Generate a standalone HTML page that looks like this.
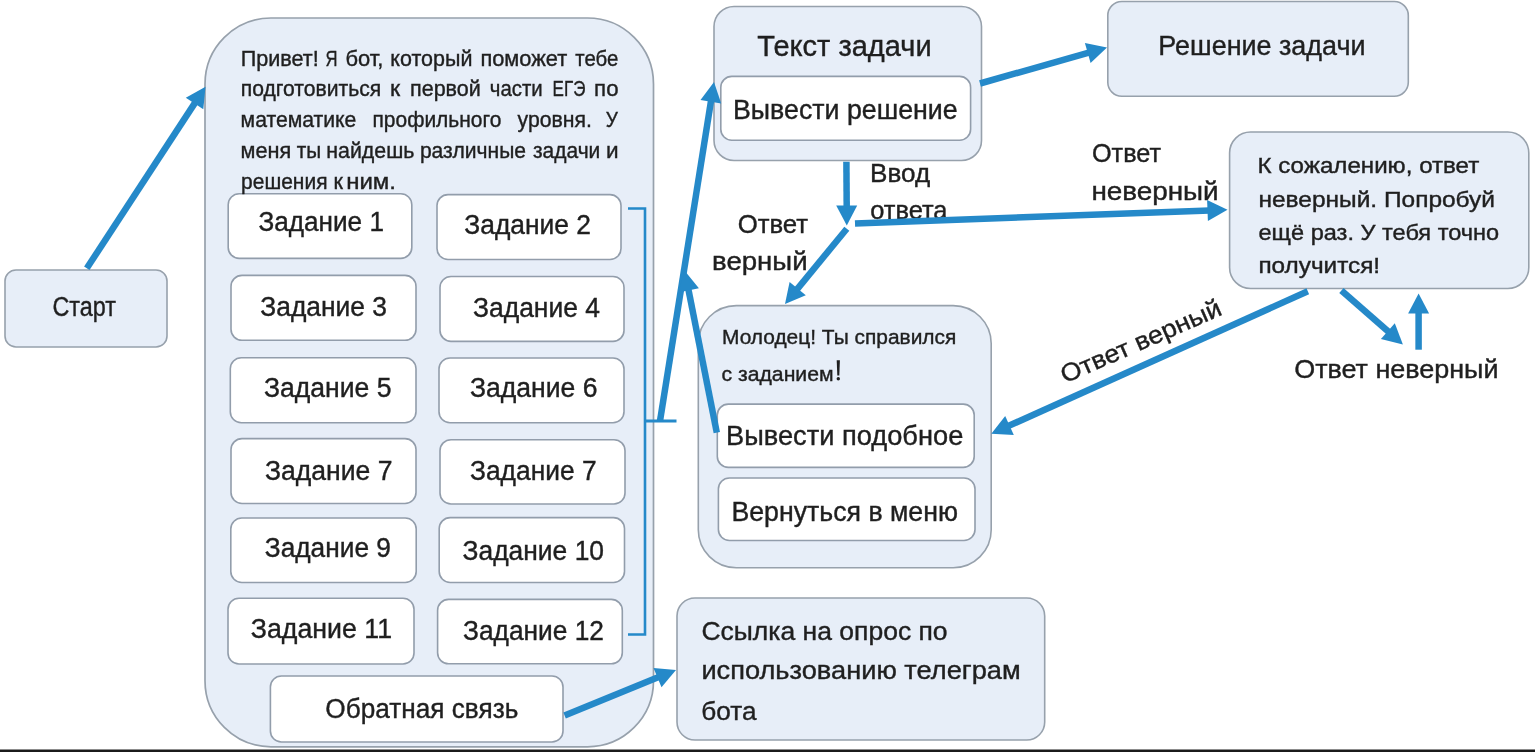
<!DOCTYPE html>
<html><head><meta charset="utf-8"><style>
html,body{margin:0;padding:0;background:#fff;width:1535px;height:752px;overflow:hidden;}
svg{display:block;font-family:"Liberation Sans",sans-serif;will-change:transform;}
</style></head><body>
<svg width="1535" height="752" viewBox="0 0 1535 752">
<rect x="0" y="0" width="1535" height="752" fill="#ffffff"/>
<rect x="5.0" y="270.0" width="162.0" height="77.0" rx="11" ry="11" fill="#e7eef8" stroke="#97a1ac" stroke-width="1.6"/>
<rect x="205.0" y="18.0" width="448.5" height="728.8" rx="66" ry="66" fill="#e7eef8" stroke="#97a1ac" stroke-width="1.7"/>
<rect x="714.0" y="6.5" width="267.5" height="154.0" rx="20" ry="20" fill="#e7eef8" stroke="#97a1ac" stroke-width="1.6"/>
<rect x="1107.8" y="1.5" width="300.5" height="94.7" rx="14" ry="14" fill="#e7eef8" stroke="#97a1ac" stroke-width="1.6"/>
<rect x="1229.6" y="132.0" width="299.2" height="156.5" rx="21" ry="21" fill="#e7eef8" stroke="#97a1ac" stroke-width="1.6"/>
<rect x="698.3" y="305.6" width="292.9" height="262.2" rx="38" ry="38" fill="#e7eef8" stroke="#97a1ac" stroke-width="1.6"/>
<rect x="677.0" y="598.0" width="367.7" height="142.0" rx="18" ry="18" fill="#e7eef8" stroke="#97a1ac" stroke-width="1.6"/>
<rect x="228.2" y="193.8" width="183.6" height="64.6" rx="11" ry="11" fill="#ffffff" stroke="#929dab" stroke-width="1.6"/>
<rect x="437.0" y="194.6" width="184.0" height="64.9" rx="11" ry="11" fill="#ffffff" stroke="#929dab" stroke-width="1.6"/>
<rect x="231.0" y="275.4" width="185.0" height="64.9" rx="11" ry="11" fill="#ffffff" stroke="#929dab" stroke-width="1.6"/>
<rect x="440.0" y="276.5" width="184.0" height="64.9" rx="11" ry="11" fill="#ffffff" stroke="#929dab" stroke-width="1.6"/>
<rect x="230.3" y="357.8" width="185.7" height="64.9" rx="11" ry="11" fill="#ffffff" stroke="#929dab" stroke-width="1.6"/>
<rect x="439.0" y="358.0" width="185.0" height="64.7" rx="11" ry="11" fill="#ffffff" stroke="#929dab" stroke-width="1.6"/>
<rect x="231.0" y="438.6" width="185.0" height="64.9" rx="11" ry="11" fill="#ffffff" stroke="#929dab" stroke-width="1.6"/>
<rect x="440.0" y="439.7" width="185.0" height="64.3" rx="11" ry="11" fill="#ffffff" stroke="#929dab" stroke-width="1.6"/>
<rect x="230.8" y="518.0" width="185.4" height="64.5" rx="11" ry="11" fill="#ffffff" stroke="#929dab" stroke-width="1.6"/>
<rect x="439.2" y="517.6" width="185.3" height="64.9" rx="11" ry="11" fill="#ffffff" stroke="#929dab" stroke-width="1.6"/>
<rect x="228.0" y="598.3" width="186.0" height="65.7" rx="11" ry="11" fill="#ffffff" stroke="#929dab" stroke-width="1.6"/>
<rect x="437.6" y="599.4" width="184.7" height="64.4" rx="11" ry="11" fill="#ffffff" stroke="#929dab" stroke-width="1.6"/>
<rect x="270.4" y="676.0" width="292.6" height="66.0" rx="11" ry="11" fill="#ffffff" stroke="#929dab" stroke-width="1.6"/>
<rect x="720.8" y="76.4" width="249.8" height="63.8" rx="11" ry="11" fill="#ffffff" stroke="#929dab" stroke-width="1.6"/>
<rect x="717.3" y="404.1" width="256.9" height="63.3" rx="11" ry="11" fill="#ffffff" stroke="#929dab" stroke-width="1.6"/>
<rect x="718.4" y="478.0" width="256.6" height="62.5" rx="11" ry="11" fill="#ffffff" stroke="#929dab" stroke-width="1.6"/>
<polyline points="628,208.5 645,208.5 645,634.5 628,634.5" fill="none" stroke="#2589c9" stroke-width="2.6"/>
<line x1="644.0" y1="421.0" x2="676.5" y2="421.0" stroke="#2589c9" stroke-width="3" stroke-linecap="butt"/>
<line x1="86.8" y1="268.3" x2="195.6" y2="101.9" stroke="#2589c9" stroke-width="6.5"/>
<polygon points="205.5,86.8 203.3,109.3 185.8,97.8" fill="#2589c9"/>
<line x1="660.0" y1="421.0" x2="711.2" y2="99.8" stroke="#2589c9" stroke-width="6.5"/>
<polygon points="714.0,82.0 721.2,103.4 700.5,100.1" fill="#2589c9"/>
<line x1="716.8" y1="432.7" x2="688.2" y2="288.4" stroke="#2589c9" stroke-width="6.5"/>
<polygon points="684.7,270.7 698.9,288.3 678.3,292.4" fill="#2589c9"/>
<line x1="980.0" y1="83.5" x2="1089.7" y2="52.4" stroke="#2589c9" stroke-width="6.5"/>
<polygon points="1107.0,47.5 1090.6,63.1 1084.9,42.9" fill="#2589c9"/>
<line x1="846.4" y1="161.7" x2="846.7" y2="207.5" stroke="#2589c9" stroke-width="6.5"/>
<polygon points="846.8,225.5 836.2,205.6 857.2,205.4" fill="#2589c9"/>
<line x1="846.8" y1="228.7" x2="796.4" y2="290.1" stroke="#2589c9" stroke-width="6.5"/>
<polygon points="785.0,304.0 789.6,281.9 805.8,295.2" fill="#2589c9"/>
<line x1="1307.8" y1="291.3" x2="1007.7" y2="426.3" stroke="#2589c9" stroke-width="6.5"/>
<polygon points="991.3,433.7 1005.2,415.9 1013.8,435.1" fill="#2589c9"/>
<line x1="1341.4" y1="290.5" x2="1389.4" y2="332.5" stroke="#2589c9" stroke-width="6.5"/>
<polygon points="1402.9,344.4 1380.9,339.1 1394.8,323.3" fill="#2589c9"/>
<line x1="1418.6" y1="349.7" x2="1418.6" y2="311.5" stroke="#2589c9" stroke-width="6.5"/>
<polygon points="1418.6,293.5 1429.1,313.5 1408.1,313.5" fill="#2589c9"/>
<line x1="564.6" y1="715.6" x2="659.3" y2="676.8" stroke="#2589c9" stroke-width="6.5"/>
<polygon points="676.0,670.0 661.5,687.3 653.5,667.9" fill="#2589c9"/>
<g font-family="Liberation Sans, sans-serif" fill="#1f1f1f" stroke="#1f1f1f" stroke-width="0.4">
<text x="52.5" y="316.1" font-size="27" textLength="63.5" lengthAdjust="spacingAndGlyphs">Старт</text>
<text x="240.7" y="65.5" font-size="22" textLength="78.0" lengthAdjust="spacingAndGlyphs">Привет!</text>
<text x="325.6" y="65.5" font-size="22" textLength="12.0" lengthAdjust="spacingAndGlyphs">Я</text>
<text x="345.4" y="65.5" font-size="22" textLength="38.0" lengthAdjust="spacingAndGlyphs">бот,</text>
<text x="390.3" y="65.5" font-size="22" textLength="82.1" lengthAdjust="spacingAndGlyphs">который</text>
<text x="480.4" y="65.5" font-size="22" textLength="86.8" lengthAdjust="spacingAndGlyphs">поможет</text>
<text x="575.3" y="65.5" font-size="22" textLength="43.0" lengthAdjust="spacingAndGlyphs">тебе</text>
<text x="240.8" y="96.4" font-size="22" textLength="140.4" lengthAdjust="spacingAndGlyphs">подготовиться</text>
<text x="389.9" y="96.4" font-size="22" textLength="10.1" lengthAdjust="spacingAndGlyphs">к</text>
<text x="410.0" y="96.4" font-size="22" textLength="70.8" lengthAdjust="spacingAndGlyphs">первой</text>
<text x="489.8" y="96.4" font-size="22" textLength="52.8" lengthAdjust="spacingAndGlyphs">части</text>
<text x="552.6" y="96.4" font-size="22" textLength="32.8" lengthAdjust="spacingAndGlyphs">ЕГЭ</text>
<text x="594.1" y="96.4" font-size="22" textLength="24.4" lengthAdjust="spacingAndGlyphs">по</text>
<text x="240.6" y="127.2" font-size="22" textLength="115.8" lengthAdjust="spacingAndGlyphs">математике</text>
<text x="372.5" y="127.2" font-size="22" textLength="128.8" lengthAdjust="spacingAndGlyphs">профильного</text>
<text x="517.6" y="127.2" font-size="22" textLength="74.3" lengthAdjust="spacingAndGlyphs">уровня.</text>
<text x="605.7" y="127.2" font-size="22" textLength="12.1" lengthAdjust="spacingAndGlyphs">У</text>
<text x="240.5" y="158.0" font-size="22" textLength="50.7" lengthAdjust="spacingAndGlyphs">меня</text>
<text x="296.8" y="158.0" font-size="22" textLength="24.4" lengthAdjust="spacingAndGlyphs">ты</text>
<text x="326.3" y="158.0" font-size="22" textLength="88.1" lengthAdjust="spacingAndGlyphs">найдешь</text>
<text x="419.9" y="158.0" font-size="22" textLength="106.2" lengthAdjust="spacingAndGlyphs">различные</text>
<text x="533.0" y="158.0" font-size="22" textLength="67.3" lengthAdjust="spacingAndGlyphs">задачи</text>
<text x="605.9" y="158.0" font-size="22" textLength="12.6" lengthAdjust="spacingAndGlyphs">и</text>
<text x="241.1" y="189.4" font-size="22" textLength="86.4" lengthAdjust="spacingAndGlyphs">решения</text>
<text x="333.5" y="189.4" font-size="22" textLength="9.4" lengthAdjust="spacingAndGlyphs">к</text>
<text x="346.2" y="189.4" font-size="22" textLength="49.8" lengthAdjust="spacingAndGlyphs">ним.</text>
<text x="258.4" y="230.7" font-size="27" textLength="125.6" lengthAdjust="spacingAndGlyphs">Задание 1</text>
<text x="464.3" y="234.0" font-size="27" textLength="126.7" lengthAdjust="spacingAndGlyphs">Задание 2</text>
<text x="260.3" y="315.9" font-size="27" textLength="126.7" lengthAdjust="spacingAndGlyphs">Задание 3</text>
<text x="473.0" y="317.0" font-size="27" textLength="127.0" lengthAdjust="spacingAndGlyphs">Задание 4</text>
<text x="264.0" y="397.0" font-size="27" textLength="127.5" lengthAdjust="spacingAndGlyphs">Задание 5</text>
<text x="470.0" y="397.0" font-size="27" textLength="127.5" lengthAdjust="spacingAndGlyphs">Задание 6</text>
<text x="265.0" y="480.0" font-size="27" textLength="127.5" lengthAdjust="spacingAndGlyphs">Задание 7</text>
<text x="470.0" y="480.0" font-size="27" textLength="126.6" lengthAdjust="spacingAndGlyphs">Задание 7</text>
<text x="264.8" y="556.5" font-size="27" textLength="126.1" lengthAdjust="spacingAndGlyphs">Задание 9</text>
<text x="462.6" y="560.0" font-size="27" textLength="141.4" lengthAdjust="spacingAndGlyphs">Задание 10</text>
<text x="250.8" y="638.4" font-size="27" textLength="141.3" lengthAdjust="spacingAndGlyphs">Задание 11</text>
<text x="463.0" y="640.0" font-size="27" textLength="141.0" lengthAdjust="spacingAndGlyphs">Задание 12</text>
<text x="325.3" y="718.0" font-size="27" textLength="193.0" lengthAdjust="spacingAndGlyphs">Обратная связь</text>
<text x="757.3" y="56.0" font-size="29.5" textLength="174.3" lengthAdjust="spacingAndGlyphs">Текст задачи</text>
<text x="733.0" y="118.7" font-size="27" textLength="224.7" lengthAdjust="spacingAndGlyphs">Вывести решение</text>
<text x="1158.3" y="54.8" font-size="27" textLength="207.2" lengthAdjust="spacingAndGlyphs">Решение задачи</text>
<text x="1257.5" y="173.1" font-size="21.5" textLength="221.8" lengthAdjust="spacingAndGlyphs">К сожалению, ответ</text>
<text x="1258.5" y="206.6" font-size="21.5" textLength="236.5" lengthAdjust="spacingAndGlyphs">неверный. Попробуй</text>
<text x="1258.5" y="239.7" font-size="21.5" textLength="240.7" lengthAdjust="spacingAndGlyphs">ещё раз. У тебя точно</text>
<text x="1258.4" y="272.7" font-size="21.5" textLength="121.7" lengthAdjust="spacingAndGlyphs">получится!</text>
<text x="722.0" y="344.4" font-size="20.5" textLength="234.3" lengthAdjust="spacingAndGlyphs">Молодец! Ты справился</text>
<text x="721.5" y="380.6" font-size="20.5" textLength="112.1" lengthAdjust="spacingAndGlyphs">с заданием</text>
<text x="726.0" y="444.7" font-size="27" textLength="237.3" lengthAdjust="spacingAndGlyphs">Вывести подобное</text>
<text x="731.4" y="520.5" font-size="27" textLength="226.6" lengthAdjust="spacingAndGlyphs">Вернуться в меню</text>
<text x="701.4" y="639.9" font-size="26" textLength="246.2" lengthAdjust="spacingAndGlyphs">Ссылка на опрос по</text>
<text x="701.4" y="679.3" font-size="26" textLength="319.3" lengthAdjust="spacingAndGlyphs">использованию телеграм</text>
<text x="701.3" y="720.3" font-size="26" textLength="55.2" lengthAdjust="spacingAndGlyphs">бота</text>
<text x="870.1" y="182.3" font-size="25" textLength="60.1" lengthAdjust="spacingAndGlyphs">Ввод</text>
<text x="870.2" y="218.8" font-size="25" textLength="77.3" lengthAdjust="spacingAndGlyphs">ответа</text>
<text x="737.7" y="232.5" font-size="25" textLength="70.4" lengthAdjust="spacingAndGlyphs">Ответ</text>
<text x="712.1" y="270.2" font-size="25" textLength="95.5" lengthAdjust="spacingAndGlyphs">верный</text>
<text x="1092.0" y="162.0" font-size="25" textLength="69.0" lengthAdjust="spacingAndGlyphs">Ответ</text>
<text x="1091.4" y="199.6" font-size="25" textLength="127.3" lengthAdjust="spacingAndGlyphs">неверный</text>
<text x="1294.2" y="378.2" font-size="26" textLength="204.3" lengthAdjust="spacingAndGlyphs">Ответ неверный</text>
<path d="M836.7,360.3 L839.9,360.3 L839.3,375.5 L837.3,375.5 Z" fill="#1f1f1f" stroke="none"/>
<circle cx="838.3" cy="378.8" r="1.7" fill="#1f1f1f" stroke="none"/>
<g transform="translate(1065,383.5) rotate(-23.6)">
<text x="0.0" y="0.0" font-size="25" textLength="173.0" lengthAdjust="spacingAndGlyphs">Ответ верный</text>
</g>
</g>
<line x1="855.0" y1="223.5" x2="1209.5" y2="210.4" stroke="#2589c9" stroke-width="6.5"/>
<polygon points="1227.5,209.7 1207.9,220.9 1207.1,199.9" fill="#2589c9"/>
<rect x="0" y="749.5" width="1535" height="2.5" fill="#1b1b1b"/>
</svg>
</body></html>
